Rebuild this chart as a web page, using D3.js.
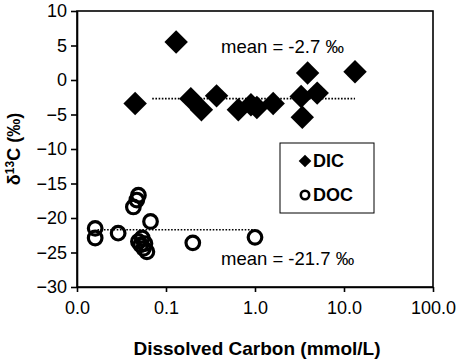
<!DOCTYPE html>
<html>
<head>
<meta charset="utf-8">
<script src="https://cdn.jsdelivr.net/npm/d3@7"></script>
<style>
    body { margin: 0; background: #fff; }
    text { font-family: "Liberation Sans", Arial, sans-serif; fill: #000; }
    .axis path, .axis line { stroke: #000; stroke-width: 1.6px; }
    .axis text { font-size: 18px; }
</style>
</head>
<body>
<div id="chart"></div>
<script>

// DIC: dissolved inorganic carbon (mmol/L) and d13C (permil)
var dicConc = [0.045, 0.13, 0.19, 0.25, 0.37, 0.65, 0.9, 1.05, 1.6, 3.3, 3.4, 3.9, 5.0, 13.3];
var dicD13C = [-3.4, 5.5, -2.7, -4.3, -2.3, -4.3, -3.6, -4.0, -3.4, -2.4, -5.4, 1.0, -1.9, 1.2];

// DOC: dissolved organic carbon
var docConc = [0.049, 0.047, 0.043, 0.067, 0.016, 0.016, 0.029, 0.049, 0.058, 0.061, 0.054, 0.052, 0.056, 0.2, 1.0];
var docD13C = [-16.7, -17.4, -18.4, -20.5, -21.5, -22.9, -22.2, -23.4, -23.7, -24.9, -22.9, -23.9, -24.4, -23.6, -22.8];

// mean lines [xStart, xEnd], value
var dicMeanExtent = [0.07, 13.3];
var dicMean = -2.7;
var docMeanExtent = [0.017, 1.0];
var docMean = -21.7;

var xTicks = [0.01, 0.1, 1, 10, 100];
var yTicks = [-30, -25, -20, -15, -10, -5, 0, 5, 10];

var margin = {top: 11, right: 26, bottom: 75, left: 77};
var width = 459 - margin.left - margin.right;
var height = 362 - margin.top - margin.bottom;

var svg = d3.select("#chart").append("svg")
    .attr("width", 459)
    .attr("height", 362)
    .append("g")
    .attr("transform", "translate(" + margin.left + "," + margin.top + ")");

var x = d3.scaleLog()
    .domain([0.01, 100])
    .range([0, width]);

var y = d3.scaleLinear()
    .domain([-30, 10])
    .range([height, 0]);

// frame (top and right)
svg.append("rect")
    .attr("x", 0)
    .attr("y", 0)
    .attr("width", width)
    .attr("height", height)
    .attr("fill", "none")
    .attr("stroke", "#000")
    .attr("stroke-width", 1.6);

var xAxis = d3.axisBottom(x)
    .tickValues(xTicks)
    .tickFormat(d3.format(".1f"))
    .tickSize(5)
    .tickSizeOuter(0)
    .tickPadding(9);

var yAxis = d3.axisLeft(y)
    .tickValues(yTicks)
    .tickFormat(d3.format("d"))
    .tickSize(6)
    .tickSizeOuter(0)
    .tickPadding(4);

svg.append("g")
    .attr("class", "axis x-axis")
    .attr("transform", "translate(0," + height + ")")
    .call(xAxis);

svg.append("g")
    .attr("class", "axis y-axis")
    .call(yAxis);

// mean lines
svg.append("line")
    .attr("x1", x(dicMeanExtent[0]))
    .attr("x2", x(dicMeanExtent[1]))
    .attr("y1", y(dicMean))
    .attr("y2", y(dicMean))
    .attr("stroke", "#000")
    .attr("stroke-width", 1.6)
    .attr("stroke-dasharray", "1.6,1.6");

svg.append("line")
    .attr("x1", x(docMeanExtent[0]))
    .attr("x2", x(docMeanExtent[1]))
    .attr("y1", y(docMean))
    .attr("y2", y(docMean))
    .attr("stroke", "#000")
    .attr("stroke-width", 1.6)
    .attr("stroke-dasharray", "1.6,1.6");

var dic = dicConc.map(function(d, i) { return [d, dicD13C[i]]; });
var doc = docConc.map(function(d, i) { return [d, docD13C[i]]; });

// diamonds = squares turned 45 degrees
var diamond = d3.symbol().type(d3.symbolSquare).size(275);

svg.selectAll(".dic")
    .data(dic)
    .enter()
    .append("path")
    .attr("class", "dic")
    .attr("d", diamond)
    .attr("transform", function(d) {
        return "translate(" + x(d[0]) + "," + y(d[1]) + ") rotate(45)";
    })
    .attr("fill", "#000");

svg.selectAll(".doc")
    .data(doc)
    .enter()
    .append("circle")
    .attr("class", "doc")
    .attr("cx", function(d) { return x(d[0]); })
    .attr("cy", function(d) { return y(d[1]); })
    .attr("r", 6.8)
    .attr("fill", "none")
    .attr("stroke", "#000")
    .attr("stroke-width", 3.2);

// mean labels
svg.append("text")
    .attr("x", 144)
    .attr("y", 42)
    .style("font-size", "18.5px")
    .text("mean = -2.7 \u2030");

svg.append("text")
    .attr("x", 144)
    .attr("y", 254)
    .style("font-size", "18.5px")
    .text("mean = -21.7 \u2030");

// legend
var legend = svg.append("g")
    .attr("transform", "translate(203,132)");

legend.append("rect")
    .attr("width", 94)
    .attr("height", 70)
    .attr("fill", "#fff")
    .attr("stroke", "#000")
    .attr("stroke-width", 1);

legend.append("path")
    .attr("d", d3.symbol().type(d3.symbolSquare).size(80))
    .attr("transform", "translate(25,18) rotate(45)")
    .attr("fill", "#000");

legend.append("text")
    .attr("x", 33)
    .attr("y", 24)
    .style("font-size", "18px")
    .style("font-weight", "bold")
    .text("DIC");

legend.append("circle")
    .attr("cx", 25)
    .attr("cy", 52)
    .attr("r", 4.2)
    .attr("fill", "none")
    .attr("stroke", "#000")
    .attr("stroke-width", 2.6);

legend.append("text")
    .attr("x", 33)
    .attr("y", 58)
    .style("font-size", "18px")
    .style("font-weight", "bold")
    .text("DOC");

// axis titles
svg.append("text")
    .attr("x", width / 2 + 2)
    .attr("y", height + 68)
    .attr("text-anchor", "middle")
    .style("font-size", "19px")
    .style("font-weight", "bold")
    .text("Dissolved Carbon (mmol/L)");

var yTitle = svg.append("text")
    .attr("transform", "translate(" + (20 - margin.left) + "," + (height / 2) + ") rotate(-90)")
    .attr("text-anchor", "middle")
    .style("font-size", "18px")
    .style("font-weight", "bold");

yTitle.append("tspan").text("\u03b4");
yTitle.append("tspan").attr("dy", -6).style("font-size", "12px").text("13");
yTitle.append("tspan").attr("dy", 6).text("C (\u2030)");

</script>
</body>
</html>
